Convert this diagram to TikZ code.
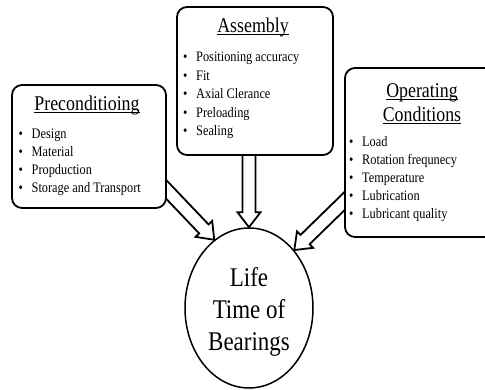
\documentclass[tikz,border=0pt]{standalone}
\usepackage{fontspec}
\setmainfont[FakeStretch=0.85]{Liberation Serif}
\usetikzlibrary{shapes,calc,positioning,backgrounds}

\newcommand{\undl}[1]{\setbox0=\hbox{#1}\rlap{\rule[-2.5pt]{\wd0}{1pt}}\box0}
\newcommand{\itm}[1]{\makebox[13pt][l]{\textbullet}#1}

\begin{document}
\begin{tikzpicture}[x=1pt,y=1pt,
  box/.style={draw,line width=1.8pt,rounded corners=10pt,fill=white,minimum width=154pt,outer sep=0pt},
  title/.style={font=\fontsize{21}{24}\selectfont,anchor=base,inner sep=0pt},
  item/.style={font=\fontsize{14.5}{18}\selectfont,anchor=base west,inner sep=0pt},
  hollow/.style={draw,line width=1.8pt,fill=white,line join=miter,
    to path={let \p1=(\tikztostart), \p2=(\tikztotarget),
      \n1={atan2(\y2-\y1,\x2-\x1)}, \n2={veclen(\x2-\x1,\y2-\y1)} in
      {[shift={(\p1)},rotate=\n1]
        (-12pt,6.5pt) -- (\n2-15pt,6.5pt) -- (\n2-15pt,11.5pt) -- (\n2,0pt)
        -- (\n2-15pt,-11.5pt) -- (\n2-15pt,-6.5pt) -- (-12pt,-6.5pt) -- cycle}}}]

  \useasboundingbox (0,0) rectangle (485,390);

  % the three boxes
  \node[box,minimum height=123pt] (pre) at (89,243.5) {};
  \node[box,minimum width=156pt,minimum height=148pt] (asm) at (255,309) {};
  \node[box,minimum height=169pt] (opc) at (422,237.5) {};

  \node[title] (pre-title) at (87,279) {\undl{Preconditioing}};
  \node[title] (asm-title) at (253,357) {\undl{Assembly}};
  \node[title] (opc-title) at (422,292) {\undl{Operating}};
  \node[title] (opc-title2) at (422,268) {\undl{Conditions}};

  \foreach \t [count=\i] in {Design,Material,Propduction,Storage and Transport}
    \node[item] (pre-\i) at (18.5,269-17.8*\i) {\itm{\t}};
  \foreach \t [count=\i] in {Positioning accuracy,Fit,Axial Clerance,Preloading,Sealing}
    \node[item] (asm-\i) at (183,346.5-18.5*\i) {\itm{\t}};
  \foreach \t [count=\i] in {Load,Rotation frequnecy,Temperature,Lubrication,Lubricant quality}
    \node[item] (opc-\i) at (349,261-18*\i) {\itm{\t}};

  % life time
  \node[ellipse,draw,line width=1.5pt,minimum width=128pt,minimum height=160pt,inner sep=0pt,
    align=center,font=\fontsize{27}{32}\selectfont] (life) at (249,82)
    {\rule{0pt}{27pt}Life\\Time of\\Bearings};

  \begin{scope}[on background layer]
    \draw[hollow] (pre.-29) to (life.117);
    \draw[hollow] (life.north |- asm.south) to (life.north);
    \draw[hollow] (opc.212) to (life.52);
  \end{scope}
\end{tikzpicture}
\end{document}
